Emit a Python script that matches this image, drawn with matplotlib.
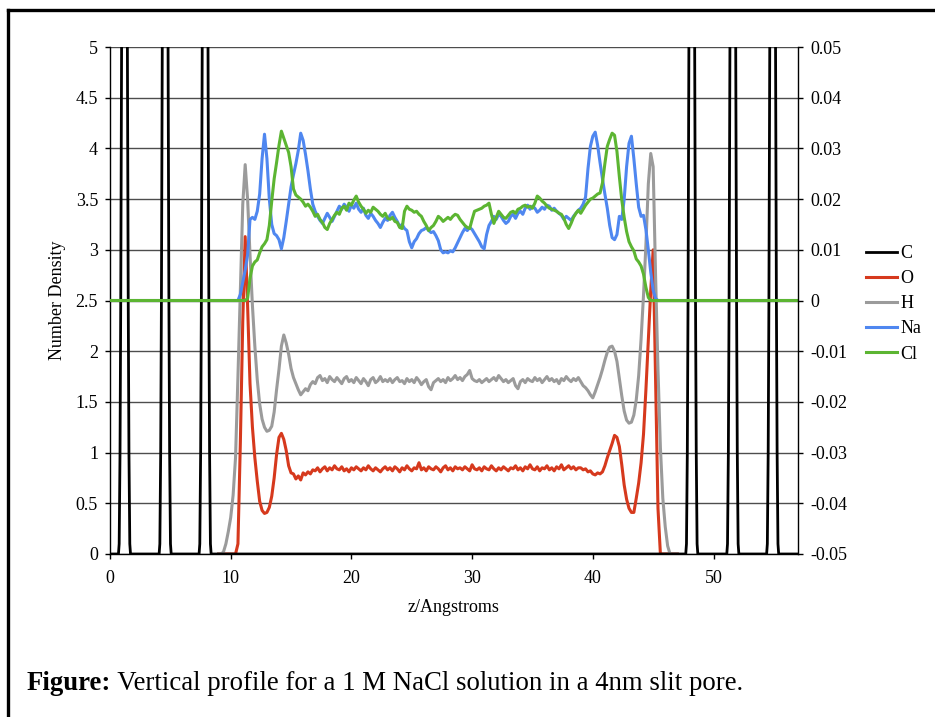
import numpy as np
import matplotlib
matplotlib.use("Agg")
import matplotlib.pyplot as plt
from matplotlib.lines import Line2D

plt.rcParams['font.family'] = ['Liberation Serif', 'DejaVu Serif']

# ---------------- data ----------------
series_names = ["C", "O", "H", "Na", "Cl"]
series_colors = ["#000000", "#d6391d", "#9b9b9b", "#4f87f0", "#5cb532"]

x_ticks = [0, 10, 20, 30, 40, 50]
x_tick_labels = ["0", "10", "20", "30", "40", "50"]
y_left_ticks = [0, 0.5, 1, 1.5, 2, 2.5, 3, 3.5, 4, 4.5, 5]
y_left_labels = ["0", "0.5", "1", "1.5", "2", "2.5", "3", "3.5", "4", "4.5", "5"]
y_right_ticks = [-0.05, -0.04, -0.03, -0.02, -0.01, 0, 0.01, 0.02, 0.03, 0.04, 0.05]
y_right_labels = ["-0.05", "-0.04", "-0.03", "-0.02", "-0.01", "0",
                  "0.01", "0.02", "0.03", "0.04", "0.05"]

z_box = [0.0, 57.0]   # extent of the simulation box (Angstrom)

# Carbon (graphite walls): sampled points of the six wall peaks
z_C = [0.0,
       0.70, 0.76, 0.83, 0.89, 0.96, 1.06, 1.20, 1.34, 1.44, 1.51, 1.57, 1.64, 1.70,
       4.07, 4.13, 4.20, 4.26, 4.33, 4.43, 4.57, 4.71, 4.81, 4.88, 4.94, 5.01, 5.07,
       7.38, 7.44, 7.51, 7.57, 7.64, 7.74, 7.88, 8.02, 8.12, 8.19, 8.25, 8.32, 8.38,
       47.70, 47.76, 47.83, 47.89, 47.96, 48.06, 48.20, 48.34, 48.44, 48.51, 48.57, 48.64, 48.70,
       51.10, 51.16, 51.23, 51.29, 51.36, 51.46, 51.60, 51.74, 51.84, 51.91, 51.97, 52.04, 52.10,
       54.40, 54.46, 54.53, 54.59, 54.66, 54.76, 54.90, 55.04, 55.14, 55.21, 55.27, 55.34, 55.40,
       57.0]
rho_C = [0.0,
         0, 0.1, 1.0, 2.5, 5.0, 20, 50, 20, 5.0, 2.5, 1.0, 0.1, 0,
         0, 0.1, 1.0, 2.5, 5.0, 20, 50, 20, 5.0, 2.5, 1.0, 0.1, 0,
         0, 0.1, 1.0, 2.5, 5.0, 20, 50, 20, 5.0, 2.5, 1.0, 0.1, 0,
         0, 0.1, 1.0, 2.5, 5.0, 20, 50, 20, 5.0, 2.5, 1.0, 0.1, 0,
         0, 0.1, 1.0, 2.5, 5.0, 20, 50, 20, 5.0, 2.5, 1.0, 0.1, 0,
         0, 0.1, 1.0, 2.5, 5.0, 20, 50, 20, 5.0, 2.5, 1.0, 0.1, 0,
         0.0]

# sampling positions (Angstrom) of the water / ion profiles: 9.0 ... 47.0, step 0.2
z_pore = np.round(np.arange(9.0, 47.0001, 0.2), 1)

rho_O = [
    0, 0, 0, 0, 0, 0, 0, 0, 0.10, 1.10,
    2.30, 3.13, 2.45, 1.68, 1.25, 0.95, 0.72, 0.52, 0.43, 0.40,
    0.41, 0.46, 0.57, 0.75, 0.98, 1.15, 1.19, 1.13, 1.02, 0.87,
    0.80, 0.79, 0.74, 0.77, 0.73, 0.80, 0.78, 0.81, 0.79, 0.83,
    0.82, 0.85, 0.81, 0.84, 0.86, 0.82, 0.85, 0.83, 0.87, 0.84,
    0.83, 0.86, 0.82, 0.84, 0.81, 0.85, 0.83, 0.86, 0.84, 0.82,
    0.85, 0.83, 0.87, 0.84, 0.82, 0.85, 0.83, 0.81, 0.84, 0.86,
    0.83, 0.85, 0.82, 0.86, 0.84, 0.81, 0.85, 0.83, 0.87, 0.84,
    0.82, 0.85, 0.84, 0.90, 0.83, 0.85, 0.82, 0.86, 0.84, 0.83,
    0.86, 0.84, 0.81, 0.85, 0.87, 0.83, 0.85, 0.82, 0.86, 0.84,
    0.85, 0.83, 0.86, 0.84, 0.82, 0.88, 0.84, 0.83, 0.85, 0.82,
    0.86, 0.84, 0.83, 0.87, 0.84, 0.82, 0.85, 0.83, 0.86, 0.84,
    0.82, 0.85, 0.84, 0.87, 0.83, 0.85, 0.82, 0.86, 0.84, 0.88,
    0.84, 0.83, 0.86, 0.82, 0.85, 0.84, 0.87, 0.83, 0.85, 0.82,
    0.86, 0.84, 0.88, 0.83, 0.85, 0.87, 0.84, 0.86, 0.83, 0.85,
    0.85, 0.83, 0.84, 0.81, 0.82, 0.79, 0.78, 0.80, 0.79, 0.81,
    0.87, 0.95, 1.02, 1.09, 1.17, 1.15, 1.06, 0.88, 0.68, 0.54,
    0.45, 0.41, 0.41, 0.55, 0.70, 0.90, 1.18, 1.62, 2.10, 2.60,
    3.00, 1.70, 0.45, 0.0, 0, 0, 0, 0, 0, 0,
    0]

rho_H = [
    0, 0, 0.02, 0.10, 0.22, 0.36, 0.58, 0.95, 1.75, 2.60,
    3.45, 3.84, 3.50, 2.95, 2.45, 2.05, 1.72, 1.48, 1.33, 1.25,
    1.21, 1.22, 1.26, 1.40, 1.62, 1.82, 2.05, 2.16, 2.08, 1.97,
    1.83, 1.74, 1.68, 1.62, 1.57, 1.60, 1.63, 1.61, 1.67, 1.70,
    1.68, 1.74, 1.76, 1.71, 1.73, 1.69, 1.75, 1.72, 1.70, 1.74,
    1.71, 1.68, 1.73, 1.75, 1.70, 1.72, 1.69, 1.74, 1.71, 1.68,
    1.73, 1.70, 1.66, 1.72, 1.74, 1.69, 1.71, 1.75, 1.70, 1.72,
    1.70, 1.73, 1.69, 1.72, 1.74, 1.70, 1.71, 1.68, 1.73, 1.70,
    1.72, 1.69, 1.74, 1.71, 1.67, 1.70, 1.72, 1.65, 1.62, 1.69,
    1.71, 1.73, 1.70, 1.72, 1.69, 1.74, 1.71, 1.73, 1.76, 1.72,
    1.74, 1.71, 1.75, 1.77, 1.81, 1.73, 1.71, 1.70, 1.72, 1.69,
    1.71, 1.73, 1.70, 1.72, 1.74, 1.71, 1.76, 1.73, 1.70, 1.72,
    1.69, 1.71, 1.73, 1.66, 1.63, 1.70, 1.72, 1.69, 1.73, 1.71,
    1.70, 1.74, 1.71, 1.73, 1.69, 1.72, 1.75, 1.71, 1.73, 1.70,
    1.72, 1.68, 1.73, 1.71, 1.75, 1.72, 1.70, 1.73, 1.71, 1.74,
    1.70, 1.66, 1.64, 1.61, 1.57, 1.54, 1.60, 1.67, 1.74, 1.82,
    1.91, 1.99, 2.04, 2.05, 2.00, 1.90, 1.73, 1.56, 1.41, 1.32,
    1.29, 1.30, 1.37, 1.52, 1.76, 2.12, 2.55, 3.05, 3.65, 3.95,
    3.82, 2.75, 1.82, 1.05, 0.55, 0.27, 0.08, 0, 0, 0,
    0]

rho_Na = [
    0, 0, 0, 0, 0, 0, 0, 0, 0, 0.0012,
    0.0036, 0.0060, 0.0090, 0.0160, 0.0164, 0.0160, 0.0176, 0.0210, 0.0280, 0.0328,
    0.0280, 0.0200, 0.0150, 0.0132, 0.0128, 0.0120, 0.0102, 0.0124, 0.0156, 0.0190,
    0.0224, 0.0248, 0.0270, 0.0296, 0.0330, 0.0316, 0.0288, 0.0256, 0.0220, 0.0190,
    0.0176, 0.0166, 0.0158, 0.0152, 0.0162, 0.0172, 0.0164, 0.0156, 0.0166, 0.0176,
    0.0186, 0.0180, 0.0190, 0.0184, 0.0176, 0.0188, 0.0182, 0.0192, 0.0180, 0.0174,
    0.0182, 0.0168, 0.0162, 0.0172, 0.0166, 0.0158, 0.0152, 0.0144, 0.0154, 0.0162,
    0.0158, 0.0168, 0.0174, 0.0164, 0.0156, 0.0146, 0.0150, 0.0142, 0.0138, 0.0116,
    0.0104, 0.0116, 0.0122, 0.0132, 0.0138, 0.0140, 0.0144, 0.0138, 0.0134, 0.0136,
    0.0128, 0.0118, 0.0100, 0.0094, 0.0096, 0.0094, 0.0098, 0.0096, 0.0104, 0.0114,
    0.0124, 0.0134, 0.0142, 0.0138, 0.0144, 0.0140, 0.0132, 0.0124, 0.0116, 0.0106,
    0.0102, 0.0130, 0.0148, 0.0156, 0.0166, 0.0160, 0.0170, 0.0166, 0.0158, 0.0152,
    0.0156, 0.0166, 0.0170, 0.0162, 0.0172, 0.0176, 0.0170, 0.0182, 0.0188, 0.0180,
    0.0186, 0.0182, 0.0174, 0.0178, 0.0184, 0.0180, 0.0188, 0.0186, 0.0178, 0.0182,
    0.0176, 0.0172, 0.0168, 0.0160, 0.0166, 0.0162, 0.0158, 0.0166, 0.0172, 0.0178,
    0.0182, 0.0190, 0.0204, 0.0260, 0.0304, 0.0324, 0.0332, 0.0306, 0.0272, 0.0240,
    0.0210, 0.0182, 0.0148, 0.0124, 0.0120, 0.0130, 0.0166, 0.0160, 0.0200, 0.0264,
    0.0310, 0.0324, 0.0280, 0.0230, 0.0184, 0.0166, 0.0168, 0.0140, 0.0100, 0.0056,
    0.0020, 0.0004, 0, 0, 0, 0, 0, 0, 0, 0,
    0]

rho_Cl = [
    0, 0, 0, 0, 0, 0, 0, 0, 0, 0,
    0, 0, 0.0004, 0.0044, 0.0068, 0.0076, 0.0080, 0.0094, 0.0106, 0.0112,
    0.0120, 0.0148, 0.0196, 0.0240, 0.0272, 0.0306, 0.0334, 0.0320, 0.0306, 0.0292,
    0.0264, 0.0220, 0.0208, 0.0204, 0.0200, 0.0194, 0.0186, 0.0190, 0.0184, 0.0176,
    0.0166, 0.0170, 0.0160, 0.0154, 0.0144, 0.0140, 0.0152, 0.0160, 0.0168, 0.0174,
    0.0170, 0.0182, 0.0186, 0.0178, 0.0192, 0.0188, 0.0198, 0.0206, 0.0194, 0.0186,
    0.0180, 0.0172, 0.0178, 0.0174, 0.0184, 0.0180, 0.0176, 0.0170, 0.0166, 0.0172,
    0.0162, 0.0160, 0.0164, 0.0156, 0.0154, 0.0144, 0.0142, 0.0176, 0.0186, 0.0180,
    0.0178, 0.0174, 0.0176, 0.0170, 0.0166, 0.0156, 0.0148, 0.0138, 0.0144, 0.0148,
    0.0156, 0.0166, 0.0162, 0.0156, 0.0160, 0.0164, 0.0160, 0.0166, 0.0170, 0.0168,
    0.0160, 0.0154, 0.0148, 0.0144, 0.0142, 0.0160, 0.0176, 0.0178, 0.0180, 0.0182,
    0.0186, 0.0188, 0.0192, 0.0170, 0.0152, 0.0164, 0.0176, 0.0170, 0.0164, 0.0162,
    0.0168, 0.0174, 0.0176, 0.0172, 0.0180, 0.0182, 0.0186, 0.0188, 0.0184, 0.0186,
    0.0182, 0.0192, 0.0206, 0.0202, 0.0196, 0.0192, 0.0186, 0.0182, 0.0180, 0.0178,
    0.0176, 0.0172, 0.0170, 0.0162, 0.0150, 0.0142, 0.0152, 0.0164, 0.0172, 0.0178,
    0.0172, 0.0180, 0.0188, 0.0194, 0.0200, 0.0202, 0.0206, 0.0210, 0.0212, 0.0232,
    0.0270, 0.0304, 0.0318, 0.0330, 0.0326, 0.0294, 0.0244, 0.0198, 0.0164, 0.0136,
    0.0116, 0.0106, 0.0098, 0.0082, 0.0076, 0.0068, 0.0052, 0.0026, 0.0006, 0,
    0, 0, 0, 0, 0, 0, 0, 0, 0, 0,
    0]

caption_bold = "Figure:"
caption_rest = " Vertical profile for a 1 M NaCl solution in a 4nm slit pore."
x_label = "z/Angstroms"
y_label = "Number Density"

# ---------------- figure ----------------
W, H = 935, 717
fig = plt.figure(figsize=(W / 100, H / 100), dpi=100)
fig.patch.set_facecolor("white")

# outer frame of the figure box (top and left edges)
fig.add_artist(Line2D([8 / W, 1.0], [1 - 10 / H, 1 - 10 / H], color="black", lw=2.4,
                      transform=fig.transFigure))
fig.add_artist(Line2D([8 / W, 8 / W], [0.0, 1 - 10 / H], color="black", lw=2.4,
                      transform=fig.transFigure))

left, right, top, bottom = 110, 798, 47, 554
ax = fig.add_axes([left / W, 1 - bottom / H, (right - left) / W, (bottom - top) / H])
ax2 = ax.twinx()

lw = 2.2
# ion arrays extended over the whole box with zero outside the pore region
z_ion = np.concatenate([[z_box[0]], z_pore, [z_box[1]]])
na_full = np.concatenate([[0.0], rho_Na, [0.0]])
cl_full = np.concatenate([[0.0], rho_Cl, [0.0]])

l_O, = ax.plot(z_pore, rho_O, color=series_colors[1], lw=lw, zorder=2)
l_H, = ax.plot(z_pore, rho_H, color=series_colors[2], lw=lw, zorder=2.1)
l_C, = ax.plot(z_C, rho_C, color=series_colors[0], lw=2.0, zorder=2.2)
l_Na, = ax2.plot(z_ion, na_full, color=series_colors[3], lw=lw, zorder=2)
l_Cl, = ax2.plot(z_ion, cl_full, color=series_colors[4], lw=lw, zorder=2.1)

ax.set_xlim(z_box[0], z_box[1])
ax.set_ylim(0, 5)
ax2.set_ylim(-0.05, 0.05)

ax.set_xticks(x_ticks)
ax.set_xticklabels(x_tick_labels)
ax.set_yticks(y_left_ticks)
ax.set_yticklabels(y_left_labels)
ax2.set_yticks(y_right_ticks)
ax2.set_yticklabels(y_right_labels)

tick_fs = 13
ax.tick_params(axis="y", direction="out", length=3.6, width=1.0, pad=5.0,
               labelsize=tick_fs, colors="black")
ax.tick_params(axis="x", direction="out", length=3.6, width=1.0, pad=8.0,
               labelsize=tick_fs, colors="black")
ax2.tick_params(axis="y", direction="out", length=3.6, width=1.0, pad=5.5,
                labelsize=tick_fs, colors="black")

ax.yaxis.grid(True, color="#4d4d4d", lw=1.0)
ax.xaxis.grid(False)
ax.set_axisbelow(True)

for s in ["top", "right"]:
    ax.spines[s].set_visible(False)
for s in ["top", "left", "bottom"]:
    ax2.spines[s].set_visible(False)
ax.spines["left"].set_linewidth(1.0)
ax.spines["bottom"].set_linewidth(1.0)
ax2.spines["right"].set_linewidth(1.0)

label_fs = 13
ax.set_xlabel(x_label, fontsize=label_fs)
ax.xaxis.set_label_coords(0.5, (bottom - 608) / (bottom - top))
ax.xaxis.label.set_va("center")
ax.set_ylabel(y_label, fontsize=label_fs)
ax.yaxis.set_label_coords((57 - left) / (right - left), 0.5)
ax.yaxis.label.set_va("center")

leg = ax2.legend([l_C, l_O, l_H, l_Na, l_Cl], series_names, loc="upper left",
                 bbox_to_anchor=(866 / W, 1 - 245 / H), bbox_transform=fig.transFigure,
                 frameon=False, fontsize=label_fs, handlelength=1.7, handletextpad=0.2,
                 labelspacing=0.45, borderpad=0, borderaxespad=0)

cap_fs = 19.3
t1 = fig.text(27 / W, 1 - 696 / H, caption_bold, fontsize=cap_fs, fontweight="bold",
              ha="left", va="bottom")
ax.annotate(caption_rest, xy=(1, 0), xycoords=t1, ha="left", va="bottom",
            fontsize=cap_fs, annotation_clip=False)

fig.savefig("out.png", dpi=100, facecolor="white")
